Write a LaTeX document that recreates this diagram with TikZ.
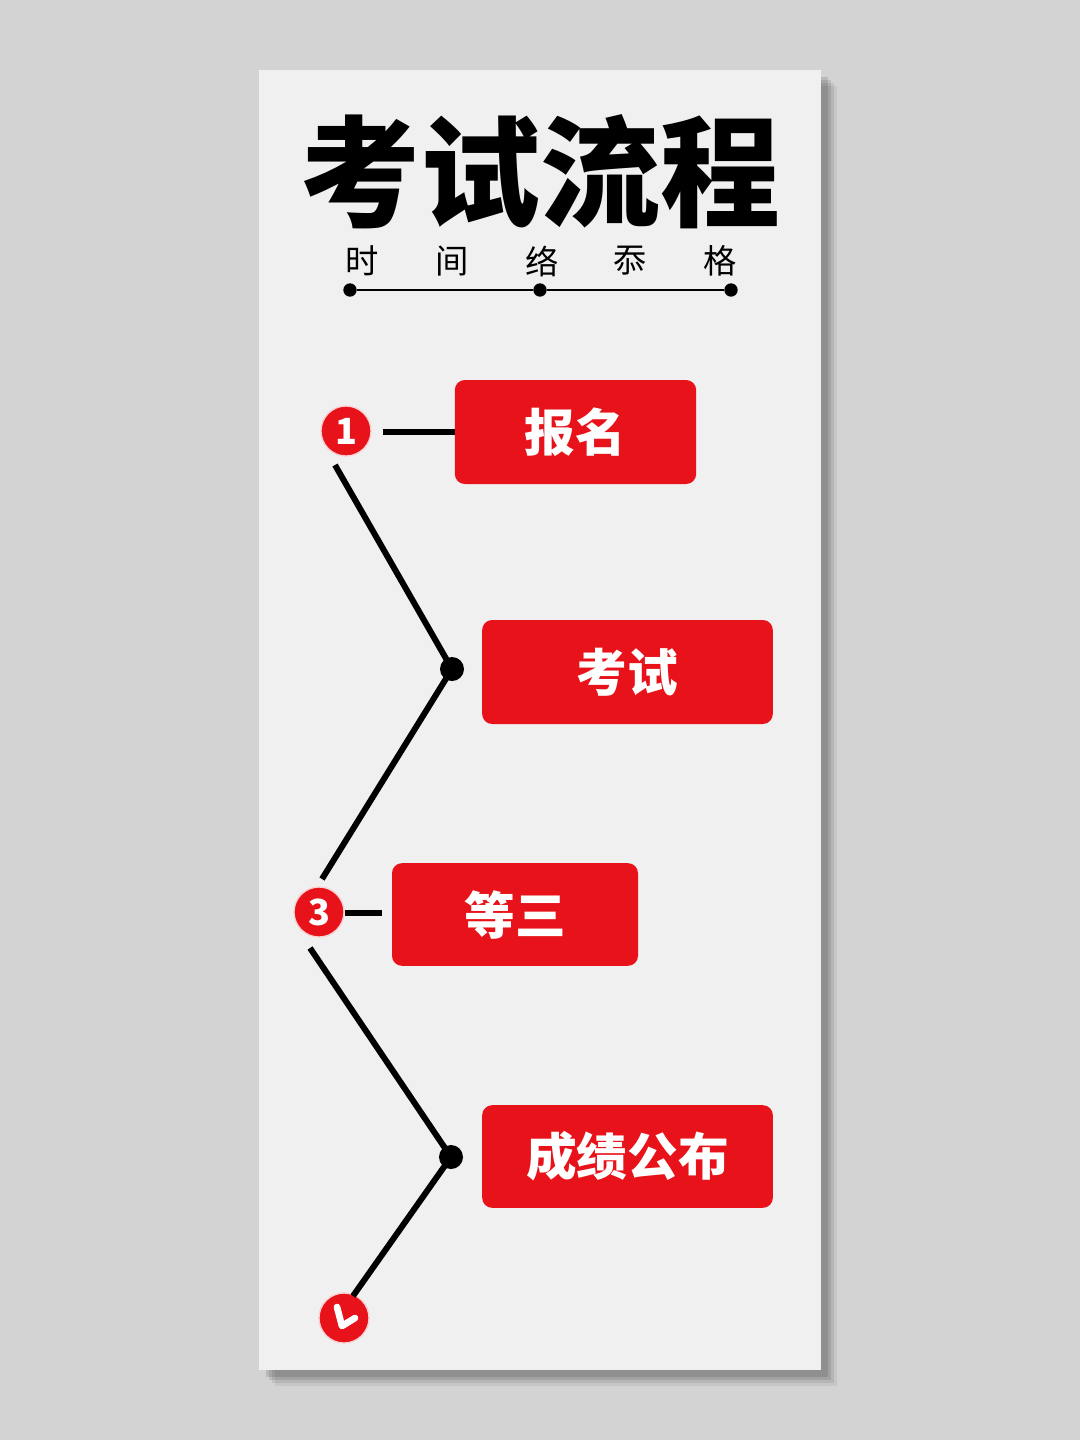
\documentclass[tikz,border=0pt]{standalone}
\usepackage{fontspec}
\newfontfamily\cjk{Noto Sans CJK SC}
\setmainfont{Noto Sans CJK SC}
\usetikzlibrary{calc}
\definecolor{bg}{HTML}{D3D3D3}
\definecolor{card}{HTML}{F0F0F0}
\definecolor{accent}{HTML}{E8131A}
\tikzset{
  redbox/.style={fill=accent, rounded corners=7.5pt, text=white, font=\cjk\bfseries\fontsize{38}{40}\selectfont, inner sep=0pt},
  numcirc/.style={circle, fill=accent, draw=white!80!accent, line width=1pt, minimum size=37.5pt, inner sep=0pt, text=white, font=\cjk\bfseries\fontsize{27}{28}\selectfont},
  blackdot/.style={circle, fill=black, minimum size=18pt, inner sep=0pt},
  smalldot/.style={circle, fill=black, minimum size=10pt, inner sep=0pt},
  link/.style={line width=4.5pt, black},
  thinlink/.style={line width=2pt, black},
  sub/.style={font=\cjk\fontsize{25}{27}\selectfont},
}
\begin{document}
\begin{tikzpicture}[x=0.75pt,y=-0.75pt]
\fill[bg] (0,0) rectangle (1080,1440);
\useasboundingbox (0,0) rectangle (1080,1440);
% shadow
\foreach \o/\a in {16/0.06,13/0.08,10/0.1,7/0.12} {
  \fill[black, opacity=\a] (259+\o,70+\o) rectangle (821+\o,1370+\o);
}
\fill[card] (259,70) rectangle (821,1370);
% title
\node[font=\cjk\bfseries\fontsize{90}{95}\selectfont, inner sep=0pt] (title) at (540,172) {考试流程};
\node[sub] (s1) at (362,261) {时};
\node[sub] (s2) at (452,261) {间};
\node[sub] (s3) at (542,261) {络};
\node[sub] (s4) at (630,261) {忝};
\node[sub] (s5) at (720,261) {格};
\node[smalldot] (d1) at (350,290) {};
\node[smalldot] (d2) at (540,290) {};
\node[smalldot] (d3) at (731,290) {};
\draw[thinlink] (d1) -- (d2) -- (d3);
% boxes
\node[redbox, minimum width=181pt, minimum height=78pt] (b1) at (575.5,432) {报名};
\node[redbox, minimum width=218pt, minimum height=78pt] (b2) at (627.5,672) {考试};
\node[redbox, minimum width=184.5pt, minimum height=77pt] (b3) at (515,914.5) {等三};
\node[redbox, minimum width=218pt, minimum height=77pt] (b4) at (627.5,1156.5) {成绩公布};
% markers
\node[numcirc] (c1) at (346,431) {1};
\node[numcirc] (c3) at (319,912) {3};
\node[numcirc] (c5) at (344,1318) {};
\draw[white, line width=5pt, line cap=round, line join=round] ($(c5)+(-7,-11)$) -- ($(c5)+(-2,8)$) -- ($(c5)+(11,0)$);
\node[blackdot] (j1) at (452,669) {};
\node[blackdot] (j2) at (451,1157) {};
% connectors
\coordinate (h1) at (383,432);
\draw[link] (h1) -- (b1.west);
\coordinate (h3) at (345,913);
\coordinate (h3e) at (382,913);
\draw[link] (h3) -- (h3e);
\coordinate (z1) at (335,465);
\coordinate (z2) at (322,879);
\draw[link] (z1) -- (j1.center) -- (z2);
\coordinate (z3) at (310,948);
\coordinate (z4) at (353,1296);
\draw[link] (z3) -- (j2.center) -- (z4);
\end{tikzpicture}
\end{document}
